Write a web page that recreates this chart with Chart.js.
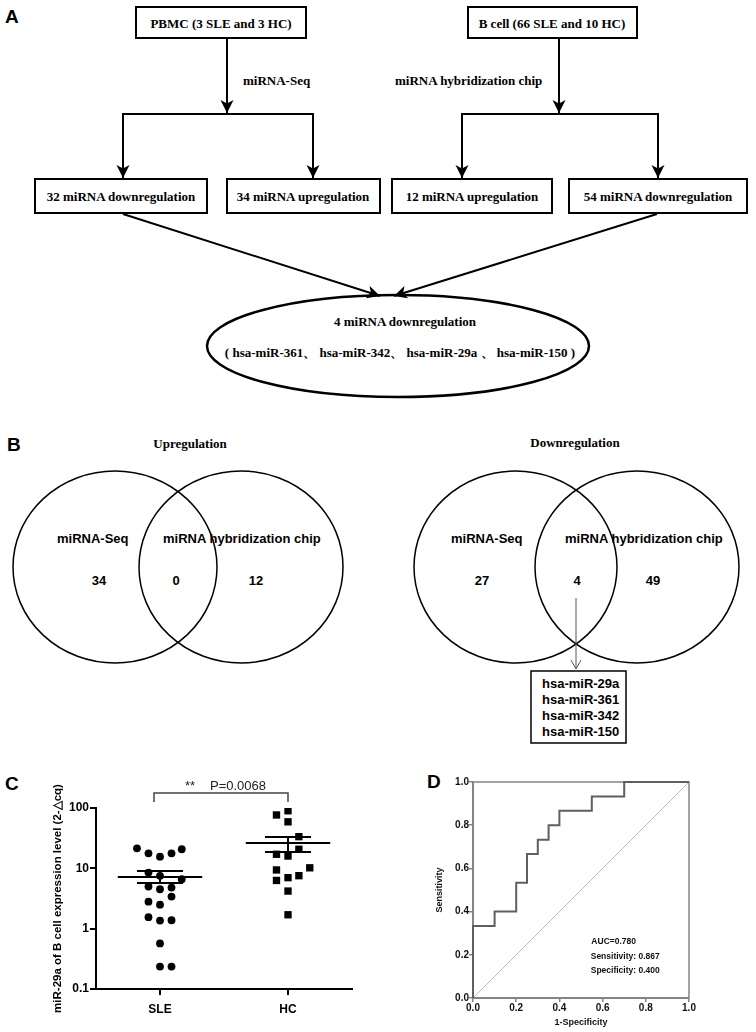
<!DOCTYPE html>
<html><head><meta charset="utf-8">
<script src="https://cdn.jsdelivr.net/npm/chart.js@4.4.0/dist/chart.umd.min.js"></script>
<style>
html,body{margin:0;padding:0;background:#fff;}
#page{position:relative;width:756px;height:1032px;overflow:hidden;background:#fff;}
.lbl{position:absolute;font:bold 19px 'Liberation Sans',Arial,sans-serif;line-height:1;color:#000;}
canvas{position:absolute;}
svg{position:absolute;left:0;top:0;}
.serif{font-family:'Liberation Serif','Times New Roman',serif;font-weight:bold;font-size:13px;white-space:pre;}
.sans{font-family:'Liberation Sans',Arial,sans-serif;font-weight:bold;font-size:13px;white-space:pre;}
</style></head><body>
<div id="page">
<svg width="756" height="760" xmlns="http://www.w3.org/2000/svg">
  <defs>
    <marker id="ah" markerWidth="14" markerHeight="14" refX="13" refY="7" orient="auto" markerUnits="userSpaceOnUse">
      <path d="M0,0.5 L13,7 L0,13.5 L3.5,7 z" fill="#000"/>
    </marker>
    <marker id="oh" markerWidth="12" markerHeight="12" refX="9" refY="5" orient="auto" markerUnits="userSpaceOnUse">
      <path d="M0,0 L9,5 L0,10" fill="none" stroke="#555" stroke-width="1"/>
    </marker>
  </defs>
  <g stroke="#000" stroke-width="2" fill="#fff">
    <rect x="136" y="7" width="170" height="31"/>
    <rect x="468" y="7" width="169" height="31"/>
    <rect x="35" y="179" width="172" height="34"/>
    <rect x="227" y="179" width="153" height="34"/>
    <rect x="392" y="179" width="160" height="34"/>
    <rect x="569" y="179" width="178" height="34"/>
  </g>
  <g stroke="#000" stroke-width="2" fill="none">
    <line x1="227" y1="38" x2="227" y2="113" marker-end="url(#ah)"/>
    <line x1="122" y1="114" x2="314" y2="114"/>
    <line x1="123" y1="114" x2="123" y2="178" marker-end="url(#ah)"/>
    <line x1="313" y1="114" x2="313" y2="178" marker-end="url(#ah)"/>
    <line x1="559" y1="38" x2="559" y2="113" marker-end="url(#ah)"/>
    <line x1="461" y1="114" x2="659" y2="114"/>
    <line x1="462" y1="114" x2="462" y2="178" marker-end="url(#ah)"/>
    <line x1="658" y1="114" x2="658" y2="178" marker-end="url(#ah)"/>
    <line x1="123" y1="214" x2="380" y2="296" marker-end="url(#ah)"/>
    <line x1="657" y1="214" x2="394" y2="296" marker-end="url(#ah)"/>
    <ellipse cx="398" cy="346" rx="191" ry="51" stroke-width="2.5"/>
  </g>
  <g class="serif" fill="#000">
    <text x="221" y="23" text-anchor="middle" dominant-baseline="central">PBMC (3 SLE and 3 HC)</text>
    <text x="552" y="23" text-anchor="middle" dominant-baseline="central">B cell (66 SLE and 10 HC)</text>
    <text x="243" y="80" dominant-baseline="central">miRNA-Seq</text>
    <text x="395" y="80" dominant-baseline="central">miRNA hybridization chip</text>
    <text x="121" y="196" text-anchor="middle" dominant-baseline="central">32 miRNA  downregulation</text>
    <text x="303" y="196" text-anchor="middle" dominant-baseline="central">34 miRNA  upregulation</text>
    <text x="472" y="196" text-anchor="middle" dominant-baseline="central">12 miRNA  upregulation</text>
    <text x="658" y="196" text-anchor="middle" dominant-baseline="central">54 miRNA  downregulation</text>
    <text x="405" y="321" text-anchor="middle" dominant-baseline="central">4 miRNA downregulation</text>
    <text x="400" y="352" text-anchor="middle" dominant-baseline="central">( hsa-miR-361、 hsa-miR-342、 hsa-miR-29a 、 hsa-miR-150 )</text>
    <text x="190" y="443" text-anchor="middle" dominant-baseline="central">Upregulation</text>
    <text x="575" y="442" text-anchor="middle" dominant-baseline="central">Downregulation</text>
  </g>
  <g stroke="#000" stroke-width="1.5" fill="none">
    <ellipse cx="115" cy="567" rx="102" ry="96"/>
    <ellipse cx="241" cy="567" rx="102" ry="96"/>
    <ellipse cx="515.5" cy="567" rx="101.5" ry="96"/>
    <ellipse cx="637" cy="567" rx="102" ry="96"/>
    <rect x="531" y="671" width="95" height="72"/>
  </g>
  <line x1="576" y1="598" x2="576" y2="669" stroke="#555" stroke-width="1" marker-end="url(#oh)"/>
  <g class="sans" fill="#000">
    <text x="57" y="538" dominant-baseline="central">miRNA-Seq</text>
    <text x="163" y="538" dominant-baseline="central">miRNA hybridization chip</text>
    <text x="99" y="580" text-anchor="middle" dominant-baseline="central">34</text>
    <text x="176" y="580" text-anchor="middle" dominant-baseline="central">0</text>
    <text x="256" y="580" text-anchor="middle" dominant-baseline="central">12</text>
    <text x="451" y="538" dominant-baseline="central">miRNA-Seq</text>
    <text x="565" y="538" dominant-baseline="central">miRNA hybridization chip</text>
    <text x="482" y="580" text-anchor="middle" dominant-baseline="central">27</text>
    <text x="577" y="580" text-anchor="middle" dominant-baseline="central">4</text>
    <text x="653" y="580" text-anchor="middle" dominant-baseline="central">49</text>
    <text x="542" y="683" dominant-baseline="central">hsa-miR-29a</text>
    <text x="542" y="699" dominant-baseline="central">hsa-miR-361</text>
    <text x="542" y="715" dominant-baseline="central">hsa-miR-342</text>
    <text x="542" y="731" dominant-baseline="central">hsa-miR-150</text>
  </g>
</svg>
<div class="lbl" style="left:5px;top:7px">A</div>
<div class="lbl" style="left:7px;top:435px">B</div>
<div class="lbl" style="left:5px;top:774px">C</div>
<div class="lbl" style="left:427px;top:772px">D</div>
<canvas id="chartC" width="323" height="272" style="left:47px;top:760px;width:323px;height:272px"></canvas>
<canvas id="chartD" width="326" height="272" style="left:430px;top:760px;width:326px;height:272px"></canvas>
</div>
<script>
// ---------- Panel C data ----------
const groups = ['SLE', 'HC'];
const sleValues  = [21.5, 17.7, 15.6, 17.7, 20.7, 8.5, 7.5, 6.6, 5.0, 4.5, 4.8, 3.4, 2.8, 2.5, 1.55, 1.36, 1.38, 0.57, 0.235, 0.235];
const sleJitter  = [-0.18, -0.09, 0, 0.09, 0.17, -0.09, 0, 0.17, -0.09, 0, 0.09, 0.09, -0.09, 0, -0.09, 0, 0.09, 0, 0, 0.09];
const hcValues   = [76.6, 90, 59, 33.5, 20.7, 17.1, 16, 10.2, 9.4, 6.3, 7.0, 7.55, 4.2, 1.7];
const hcJitter   = [-0.09, 0, 0, 0.085, 0.085, -0.09, 0, 0.17, -0.09, -0.09, 0, 0.085, 0, 0];
const groupMeans    = [7.2, 26.3];
const groupSemUpper = [9.0, 33.0];
const groupSemLower = [5.7, 18.6];
const yTickValues = [0.1, 1, 10, 100];
const sigStars = '**';
const pValueText = 'P=0.0068';
const yTitleC = 'miR-29a of B cell expression level (2-\u25B3cq)';

// ---------- Panel D data ----------
const rocFpr = [0, 0, 0.1, 0.2, 0.25, 0.3, 0.35, 0.4, 0.55, 0.7, 1.0];
const rocTpr = [0, 0.333, 0.4, 0.533, 0.667, 0.733, 0.8, 0.867, 0.933, 1.0, 1.0];
const rocTickValues = [0, 0.2, 0.4, 0.6, 0.8, 1.0];
const rocStats = ['AUC=0.780', 'Sensitivity: 0.867', 'Specificity: 0.400'];

Chart.defaults.font.family = "'Liberation Sans', Arial, sans-serif";
Chart.defaults.animation = false;

const SANS = "'Liberation Sans', Arial, sans-serif";

// build C datasets
const sleGroupX = 1, hcGroupX = 2;
const sleData = sleValues.map((v, i) => ({x: sleGroupX + sleJitter[i], y: v}));
const hcData = hcValues.map((v, i) => ({x: hcGroupX + hcJitter[i], y: v}));
const summaryLines = [];
groups.forEach((g, i) => {
  const cx = i + 1;
  const base = {type: 'line', showLine: true, pointRadius: 0, borderColor: '#000', borderWidth: 2, fill: false, order: 0, clip: false};
  summaryLines.push(Object.assign({}, base, {data: [{x: cx - 0.33, y: groupMeans[i]}, {x: cx + 0.33, y: groupMeans[i]}]}));
  summaryLines.push(Object.assign({}, base, {data: [{x: cx - 0.18, y: groupSemUpper[i]}, {x: cx + 0.18, y: groupSemUpper[i]}]}));
  summaryLines.push(Object.assign({}, base, {data: [{x: cx - 0.18, y: groupSemLower[i]}, {x: cx + 0.18, y: groupSemLower[i]}]}));
  summaryLines.push(Object.assign({}, base, {data: [{x: cx, y: groupSemLower[i]}, {x: cx, y: groupSemUpper[i]}]}));
});

const bracketPlugin = {
  id: 'bracket',
  afterDraw(chart) {
    const ctx = chart.ctx;
    const xs = chart.scales.x;
    const x1 = xs.getPixelForValue(1) - 6;
    const x2 = xs.getPixelForValue(2);
    const y = chart.chartArea.top - 15;
    ctx.save();
    ctx.strokeStyle = '#444';
    ctx.lineWidth = 1.5;
    ctx.beginPath();
    ctx.moveTo(x1, y + 9); ctx.lineTo(x1, y); ctx.lineTo(x2, y); ctx.lineTo(x2, y + 9);
    ctx.stroke();
    ctx.fillStyle = '#222';
    ctx.font = '13px ' + SANS;
    ctx.textBaseline = 'bottom';
    ctx.textAlign = 'left';
    ctx.fillText(sigStars, x1 + 31, y - 0.5);
    ctx.fillText(pValueText, x1 + 56, y - 0.5);
    ctx.restore();
  }
};

new Chart(document.getElementById('chartC'), {
  type: 'scatter',
  data: {
    datasets: [
      {label: 'SLE', data: sleData, pointStyle: 'circle', pointRadius: 3.9, pointHoverRadius: 3.9, backgroundColor: '#000', borderWidth: 0, order: 1},
      {label: 'HC', data: hcData, pointStyle: 'rect', pointRadius: 5.2, pointHoverRadius: 5.2, backgroundColor: '#000', borderWidth: 0, order: 1},
      ...summaryLines
    ]
  },
  options: {
    responsive: false,
    devicePixelRatio: 1,
    layout: {padding: {top: 48, right: 18, left: 0, bottom: 0}},
    plugins: {legend: {display: false}, tooltip: {enabled: false}},
    scales: {
      x: {
        type: 'linear', min: 0.5, max: 2.5,
        afterBuildTicks: s => { s.ticks = groups.map((g, i) => ({value: i + 1})); },
        afterFit: s => { s.height = 43; },
        ticks: {callback: v => groups[Math.round(v) - 1] || '', color: '#000', font: {size: 12, weight: 'bold'}, padding: 7, maxRotation: 0, autoSkip: false},
        grid: {display: true, drawOnChartArea: false, drawTicks: true, tickLength: 6, color: '#000', lineWidth: 2},
        border: {display: true, color: '#000', width: 2}
      },
      y: {
        type: 'logarithmic', min: 0.1, max: 100,
        afterBuildTicks: s => { s.ticks = yTickValues.map(v => ({value: v})); },
        afterFit: s => { s.width = 49; },
        ticks: {callback: v => String(v), color: '#000', font: {size: 12, weight: 'bold'}, padding: 1, autoSkip: false},
        grid: {display: true, drawOnChartArea: false, drawTicks: true, tickLength: 6, color: '#000', lineWidth: 2},
        border: {display: true, color: '#000', width: 2},
        title: {display: true, text: yTitleC, color: '#000', font: {size: 11.5, weight: 'bold'}, padding: {top: 4, bottom: 0}}
      }
    }
  },
  plugins: [bracketPlugin]
});

// ---------- Panel D ----------
const rocData = rocFpr.map((f, i) => ({x: f, y: rocTpr[i]}));
const AXIS_GRAY = '#858585';

const rocDecor = {
  id: 'rocDecor',
  beforeDatasetsDraw(chart) {
    const {ctx, chartArea: a} = chart;
    ctx.save();
    ctx.strokeStyle = AXIS_GRAY;
    ctx.lineWidth = 1.5;
    ctx.beginPath();
    ctx.moveTo(a.left, a.top); ctx.lineTo(a.right, a.top); ctx.lineTo(a.right, a.bottom);
    ctx.stroke();
    ctx.restore();
  },
  afterDraw(chart) {
    const {ctx} = chart;
    const xs = chart.scales.x, ys = chart.scales.y;
    const anchors = [[0.548, 0.26], [0.545, 0.19], [0.545, 0.125]];
    ctx.save();
    ctx.fillStyle = '#111';
    ctx.font = 'bold 8.5px ' + SANS;
    ctx.textAlign = 'left';
    ctx.textBaseline = 'middle';
    rocStats.forEach((t, i) => ctx.fillText(t, xs.getPixelForValue(anchors[i][0]), ys.getPixelForValue(anchors[i][1])));
    ctx.restore();
  }
};

new Chart(document.getElementById('chartD'), {
  type: 'scatter',
  data: {
    datasets: [
      {label: 'ROC', data: rocData, showLine: true, stepped: 'before', pointRadius: 0, borderColor: '#5f5f5f', borderWidth: 2, fill: false, clip: false, order: 0},
      {label: 'Reference', data: [{x: 0, y: 0}, {x: 1, y: 1}], showLine: true, pointRadius: 0, borderColor: '#bdbdbd', borderWidth: 1, fill: false, order: 1}
    ]
  },
  options: {
    responsive: false,
    devicePixelRatio: 1,
    layout: {padding: {top: 22, right: 67, left: 0, bottom: 0}},
    plugins: {legend: {display: false}, tooltip: {enabled: false}},
    scales: {
      x: {
        type: 'linear', min: 0, max: 1,
        afterBuildTicks: s => { s.ticks = rocTickValues.map(v => ({value: v})); },
        afterFit: s => { s.height = 34; },
        ticks: {callback: v => Number(v).toFixed(1), color: '#111', font: {size: 10, weight: 'bold'}, padding: 0, maxRotation: 0, autoSkip: false},
        grid: {display: true, drawOnChartArea: false, drawTicks: true, tickLength: 4, color: AXIS_GRAY, lineWidth: 1.5},
        border: {display: true, color: AXIS_GRAY, width: 2},
        title: {display: true, text: '1-Specificity', color: '#111', font: {size: 9, weight: 'bold'}, padding: {top: 0, bottom: 4}}
      },
      y: {
        type: 'linear', min: 0, max: 1,
        afterBuildTicks: s => { s.ticks = rocTickValues.map(v => ({value: v})); },
        afterFit: s => { s.width = 43; },
        ticks: {callback: v => Number(v).toFixed(1), color: '#111', font: {size: 10, weight: 'bold'}, padding: 0, autoSkip: false},
        grid: {display: true, drawOnChartArea: false, drawTicks: true, tickLength: 4, color: AXIS_GRAY, lineWidth: 1.5},
        border: {display: true, color: AXIS_GRAY, width: 2},
        title: {display: true, text: 'Sensitivity', color: '#111', font: {size: 9, weight: 'bold'}, padding: {top: 4, bottom: 0}}
      }
    }
  },
  plugins: [rocDecor]
});
</script>
</body></html>
